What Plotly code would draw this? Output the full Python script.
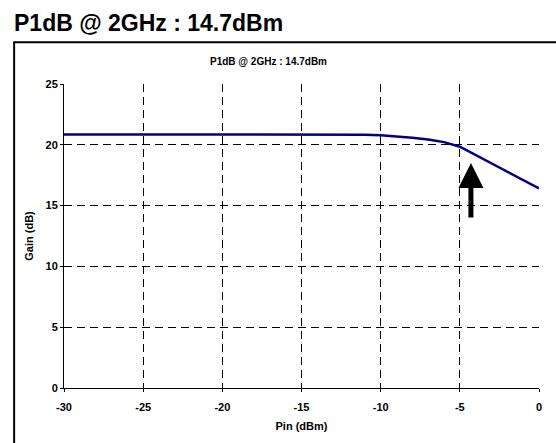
import plotly.graph_objects as go

pin = list(range(-30, 1))
gain = [20.85]*17 + [20.85, 20.84, 20.83, 20.78, 20.70, 20.58, 20.44, 20.22, 19.84, 19.15, 18.45, 17.80, 17.10, 16.42]
xticks = [-30, -25, -20, -15, -10, -5, 0]
xticklabels = ["-30", "-25", "-20", "-15", "-10", "-5", "0"]
title_text = "P1dB @ 2GHz : 14.7dBm"
arrow_x = -4.3
arrow_tip = 18.5
arrow_tail = 13.9

FONT = "Arial, Liberation Sans, sans-serif"

fig = go.Figure()
fig.add_trace(go.Scatter(x=pin, y=gain, mode="lines",
                         line=dict(color="#000080", width=2.5),
                         showlegend=False, hoverinfo="skip"))

axis_common = dict(showgrid=True, gridcolor="#000000", griddash="8px,5px", gridwidth=1,
                   zeroline=False, showline=True, linecolor="#000000", linewidth=1,
                   ticks="outside", ticklen=3, tickcolor="#000000",
                   tickfont=dict(family=FONT, size=11, color="#000000", weight="bold"))

fig.update_xaxes(range=[-30, 0], tickvals=xticks, ticktext=xticklabels, ticklabelstandoff=6,
                 title=dict(text="<b>Pin (dBm)</b>", font=dict(family=FONT, size=11, color="#000"), standoff=10),
                 **axis_common)
fig.update_yaxes(range=[0, 25], dtick=5,
                 title=dict(text="<b>Gain (dB)</b>", font=dict(family=FONT, size=11, color="#000"), standoff=9),
                 **axis_common)

# outer frame
fig.add_shape(type="rect", xref="paper", yref="paper", x0=-0.105, x1=1.1, y0=-0.2, y1=1.137,
              line=dict(color="#000", width=2), layer="below")
# outer title
fig.add_annotation(xref="paper", yref="paper", x=-0.11, y=1.2, xanchor="left", yanchor="middle",
                   text="<b>" + title_text + "</b>", showarrow=False,
                   font=dict(family=FONT, size=23, color="#000"))
# inner title
fig.add_annotation(xref="paper", yref="paper", x=0.43, y=1.075, xanchor="center", yanchor="middle",
                   text="<b>" + title_text + "</b>", showarrow=False,
                   font=dict(family=FONT, size=10, color="#000"))
# arrow
fig.add_annotation(x=arrow_x, y=arrow_tip, ax=arrow_x, ay=arrow_tail, xref="x", yref="y",
                   axref="x", ayref="y", text="", showarrow=True, arrowhead=2,
                   arrowsize=1.0, arrowwidth=5, arrowcolor="#000")

fig.update_layout(width=556, height=443, margin=dict(l=64, r=17, t=84, b=52),
                  plot_bgcolor="white", paper_bgcolor="white")
fig.write_html("out.html")
